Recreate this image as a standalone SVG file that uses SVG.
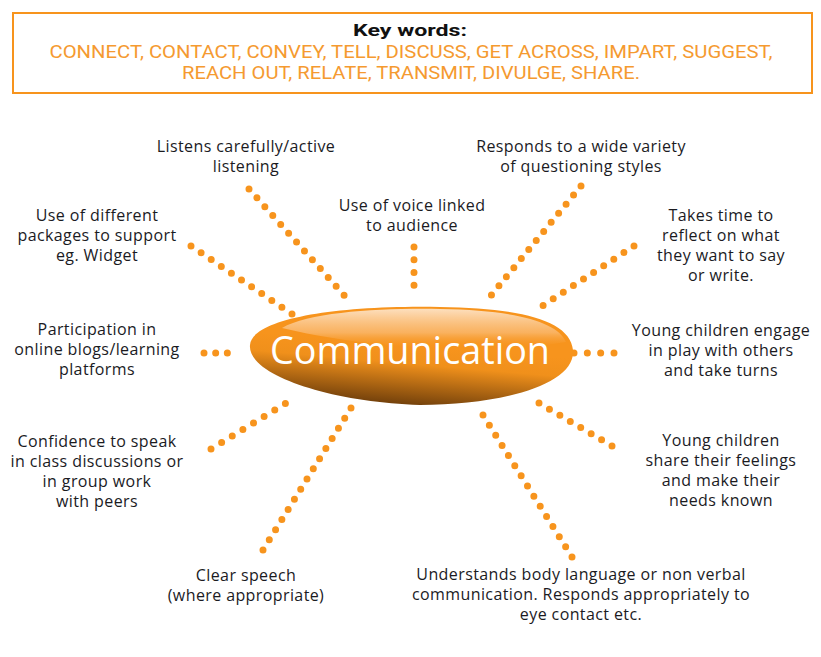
<svg xmlns="http://www.w3.org/2000/svg" width="821" height="657" viewBox="0 0 821 657">
<defs>
<style>
.lbl{font-family:"Open Sans","Liberation Sans",sans-serif;font-size:16px;letter-spacing:0.4px;fill:#1b1b1f;text-anchor:middle}
.kw{font-family:Roboto,"Liberation Sans",sans-serif;font-size:18px;fill:#f59a30;text-anchor:middle}
.dots{fill:none;stroke:#f7941d;stroke-width:7;stroke-linecap:round;stroke-dasharray:0 1}
</style>
<linearGradient id="body" x1="0.55" y1="0.4" x2="0.38" y2="1">
<stop offset="0" stop-color="#f7941d"/>
<stop offset="0.3" stop-color="#f0901b"/>
<stop offset="1" stop-color="#6a3b0a"/>
</linearGradient>
<linearGradient id="shine" x1="0" y1="0" x2="0" y2="1">
<stop offset="0" stop-color="#fde3c6" stop-opacity="0.95"/>
<stop offset="0.6" stop-color="#fbc58a" stop-opacity="0.6"/>
<stop offset="1" stop-color="#f7941d" stop-opacity="0"/>
</linearGradient>
</defs>
<rect width="821" height="657" fill="#ffffff"/>
<g id="keywords">
<rect x="13" y="13" width="799" height="80" fill="#ffffff" stroke="#f7941d" stroke-width="2"/>
<text x="410" y="36" font-family="Roboto,'Liberation Sans',sans-serif" font-size="17" font-weight="bold" fill="#111" text-anchor="middle" textLength="114" lengthAdjust="spacingAndGlyphs">Key words:</text>
<text class="kw" x="411" y="58" textLength="723" lengthAdjust="spacingAndGlyphs">CONNECT, CONTACT, CONVEY, TELL, DISCUSS, GET ACROSS, IMPART, SUGGEST,</text>
<text class="kw" x="411" y="79" textLength="458" lengthAdjust="spacingAndGlyphs">REACH OUT, RELATE, TRANSMIT, DIVULGE, SHARE.</text>
</g>
<g id="connectors">
<path class="dots" pathLength="13" d="M249,189 L352,304"/>
<path class="dots" pathLength="10" d="M191,246 L292,314"/>
<path class="dots" pathLength="4" d="M414,247 L414,298"/>
<path class="dots" pathLength="13" d="M581,186 L484,304"/>
<path class="dots" pathLength="10" d="M634,246 L533,312"/>
<path class="dots" pathLength="3" d="M204,353 L239,353"/>
<path class="dots" pathLength="3" d="M574,353 L614,353"/>
<path class="dots" pathLength="8" d="M211,449 L296,397"/>
<path class="dots" pathLength="14" d="M351,408 L263,550"/>
<path class="dots" pathLength="7" d="M539,403 L612,446"/>
<path class="dots" pathLength="14" d="M483,415 L572,557"/>
</g>
<g id="center">
<path d="M250,345 C252,320 330,305 440,307 C520,308 570,320 573,350 C576,385 500,405 420,405 C330,402 247,375 250,345 Z" fill="url(#body)"/>
<path d="M282,328 C310,312 380,308 440,309 C515,310 558,322 566,342 C520,350 400,356 282,328 Z" fill="url(#shine)"/>
<text x="410" y="364" font-family="'Open Sans','Liberation Sans',sans-serif" font-size="38" fill="#ffffff" text-anchor="middle" textLength="280" lengthAdjust="spacingAndGlyphs">Communication</text>
</g>
<g id="n-listens"><text class="lbl" x="246" y="152">Listens carefully/active</text><text class="lbl" x="246" y="172">listening</text></g>
<g id="n-responds"><text class="lbl" x="581" y="152">Responds to a wide variety</text><text class="lbl" x="581" y="172">of questioning styles</text></g>
<g id="n-voice"><text class="lbl" x="412" y="211">Use of voice linked</text><text class="lbl" x="412" y="231">to audience</text></g>
<g id="n-packages"><text class="lbl" x="97" y="221">Use of different</text><text class="lbl" x="97" y="241">packages to support</text><text class="lbl" x="97" y="261">eg. Widget</text></g>
<g id="n-takes"><text class="lbl" x="721" y="221">Takes time to</text><text class="lbl" x="721" y="241">reflect on what</text><text class="lbl" x="721" y="261">they want to say</text><text class="lbl" x="721" y="281">or write.</text></g>
<g id="n-participation"><text class="lbl" x="97" y="335">Participation in</text><text class="lbl" x="97" y="355">online blogs/learning</text><text class="lbl" x="97" y="375">platforms</text></g>
<g id="n-engage"><text class="lbl" x="721" y="336">Young children engage</text><text class="lbl" x="721" y="356">in play with others</text><text class="lbl" x="721" y="376">and take turns</text></g>
<g id="n-confidence"><text class="lbl" x="97" y="447">Confidence to speak</text><text class="lbl" x="97" y="467">in class discussions or</text><text class="lbl" x="97" y="487">in group work</text><text class="lbl" x="97" y="507">with peers</text></g>
<g id="n-feelings"><text class="lbl" x="721" y="446">Young children</text><text class="lbl" x="721" y="466">share their feelings</text><text class="lbl" x="721" y="486">and make their</text><text class="lbl" x="721" y="506">needs known</text></g>
<g id="n-speech"><text class="lbl" x="246" y="581">Clear speech</text><text class="lbl" x="246" y="601">(where appropriate)</text></g>
<g id="n-body"><text class="lbl" x="581" y="580">Understands body language or non verbal</text><text class="lbl" x="581" y="600">communication. Responds appropriately to</text><text class="lbl" x="581" y="620">eye contact etc.</text></g>
</svg>
